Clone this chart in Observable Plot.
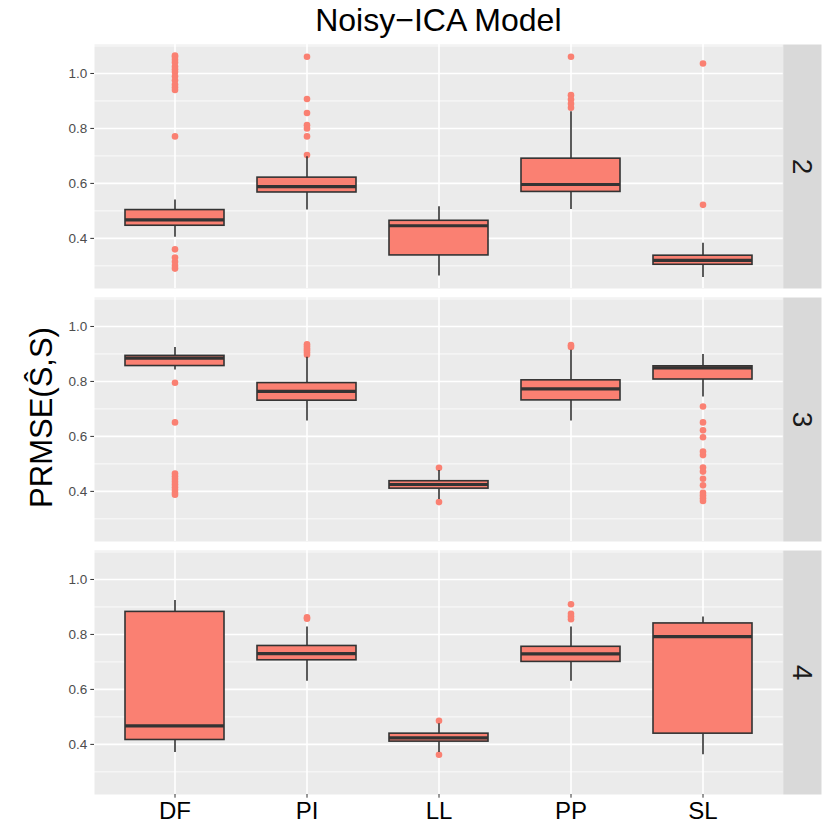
<!DOCTYPE html>
<html>
<head>
<meta charset="utf-8">
<script src="https://cdn.jsdelivr.net/npm/d3@7"></script>
<script src="https://cdn.jsdelivr.net/npm/@observablehq/plot@0.6"></script>
<style>
  body { margin: 0; background: #fff; }
  #wrap { position: relative; width: 830px; height: 830px; font-family: "Liberation Sans", Arial, sans-serif; overflow: hidden; }
  #title { position: absolute; left: 238.35px; width: 400px; top: 4px; font-size: 32px; line-height: 32px; text-align: center; color: #000; white-space: nowrap; }
  #ylab { position: absolute; left: -159.5px; width: 400px; top: 401.5px; height: 31px; font-size: 31px; line-height: 31px; text-align: center; color: #000; transform: rotate(-90deg); white-space: nowrap; }
</style>
</head>
<body>
<div id="wrap">
  <div id="chart"></div>
  <div id="title">Noisy−ICA Model</div>
  <div id="ylab">PRMSE(Ŝ,S)</div>
</div>
<script>
// ---- data ----
const methods = ["DF", "PI", "LL", "PP", "SL"];
const components = ["2", "3", "4"];

// per component (rows: 2, 3, 4), per method (DF, PI, LL, PP, SL)
const whiskerLow = [
  [0.404, 0.503, 0.263, 0.505, 0.258],
  [0.842, 0.656, 0.370, 0.656, 0.743],
  [0.370, 0.630, 0.370, 0.630, 0.362]
];
const quart1 = [
  [0.446, 0.567, 0.338, 0.569, 0.304],
  [0.856, 0.730, 0.410, 0.731, 0.807],
  [0.416, 0.706, 0.410, 0.700, 0.439]
];
const median = [
  [0.467, 0.588, 0.446, 0.596, 0.320],
  [0.885, 0.764, 0.425, 0.773, 0.849],
  [0.467, 0.730, 0.424, 0.729, 0.792]
];
const quart3 = [
  [0.503, 0.621, 0.464, 0.690, 0.337],
  [0.893, 0.794, 0.437, 0.804, 0.855],
  [0.882, 0.758, 0.439, 0.755, 0.840]
];
const whiskerHigh = [
  [0.540, 0.697, 0.515, 0.861, 0.382],
  [0.923, 0.888, 0.476, 0.913, 0.898],
  [0.923, 0.827, 0.475, 0.827, 0.863]
];

const outliers2 = [
  [1.065, 1.060, 1.050, 1.040, 1.025, 1.015, 1.005, 0.990, 0.975, 0.960, 0.950, 0.940, 0.771, 0.360, 0.330, 0.315, 0.300, 0.290],
  [1.061, 0.907, 0.856, 0.812, 0.800, 0.771, 0.703],
  [],
  [1.061, 0.921, 0.905, 0.890, 0.875],
  [1.036, 0.522]
];
const outliers3 = [
  [0.795, 0.651, 0.465, 0.455, 0.445, 0.435, 0.425, 0.415, 0.405, 0.395, 0.388],
  [0.897, 0.905, 0.913, 0.920, 0.928, 0.935],
  [0.486, 0.361],
  [0.925, 0.932],
  [0.709, 0.651, 0.622, 0.597, 0.545, 0.532, 0.487, 0.472, 0.446, 0.422, 0.395, 0.385, 0.375, 0.365]
];
const outliers4 = [
  [],
  [0.857, 0.862],
  [0.486, 0.362],
  [0.910, 0.875, 0.865, 0.855],
  []
];

const majorTicks = [0.4, 0.6, 0.8, 1.0];
const minorTicks = [0.3, 0.5, 0.7, 0.9, 1.1];

// ---- build tables ----
const stats = components.flatMap((k, i) => methods.map((m, j) => ({
  k, method: m,
  lo: whiskerLow[i][j], q1: quart1[i][j], med: median[i][j], q3: quart3[i][j], hi: whiskerHigh[i][j]
})));
const outlierSets = [outliers2, outliers3, outliers4];
const outliers = components.flatMap((k, i) => methods.flatMap((m, j) =>
  outlierSets[i][j].map(v => ({k, method: m, value: v}))));

const allVals = stats.flatMap(d => [d.lo, d.hi]).concat(outliers.map(d => d.value));
const [vmin, vmax] = d3.extent(allVals);
const pad = (vmax - vmin) * 0.05;
const yDomain = [vmin - pad, vmax + pad];

// ---- layout ----
const W = 830, H = 830;
const mL = 94, mR = 47.3, mT = 42.7, mB = 35;
const panelW = W - mL - mR;
const stripW = 38.3;

const fill = "#FA8072";
const dark = "#333333";

const chart = Plot.plot({
  width: W,
  height: H,
  marginLeft: mL,
  marginRight: mR,
  marginTop: mT,
  marginBottom: mB,
  style: { fontFamily: "Liberation Sans, Arial, sans-serif", background: "transparent", overflow: "visible" },
  x: { domain: methods, paddingInner: 0.25, paddingOuter: 0.225, align: 0.5, label: null },
  y: { domain: yDomain, label: null },
  fy: { domain: components, paddingInner: 0.037, paddingOuter: 0, axis: null, label: null },
  marks: [
    Plot.frame({ fill: "#EBEBEB", stroke: "none" }),
    Plot.ruleY(minorTicks.filter(t => t >= yDomain[0] && t <= yDomain[1]), { stroke: "white", strokeWidth: 0.8 }),
    Plot.ruleY(majorTicks, { stroke: "white", strokeWidth: 1.6 }),
    Plot.gridX({ stroke: "white", strokeOpacity: 1, strokeWidth: 1.6 }),
    // strip background + label
    Plot.frame({ fill: "#D9D9D9", stroke: "none", insetLeft: panelW, insetRight: -stripW }),
    Plot.text(components, { fy: d => d, text: d => d, frameAnchor: "right", dx: stripW / 2, rotate: 90,
      textAnchor: "middle", lineAnchor: "middle", fontSize: 28, fill: "#1A1A1A" }),
    // outliers
    Plot.dot(outliers, { x: "method", y: "value", fy: "k", r: 3.3, fill: fill, stroke: "none" }),
    // whiskers
    Plot.ruleX(stats, { x: "method", y1: "q3", y2: "hi", fy: "k", stroke: dark, strokeWidth: 1.6 }),
    Plot.ruleX(stats, { x: "method", y1: "lo", y2: "q1", fy: "k", stroke: dark, strokeWidth: 1.6 }),
    // boxes
    Plot.barY(stats, { x: "method", y1: "q1", y2: "q3", fy: "k", fill: fill, stroke: dark, strokeWidth: 1.6 }),
    // medians
    Plot.tickY(stats, { x: "method", y: "med", fy: "k", stroke: dark, strokeWidth: 3.2 }),
    // axes
    Plot.axisY({ ticks: majorTicks, tickFormat: d3.format(".1f"), fontSize: 13.5, tickSize: 3.7, tickPadding: 3.5,
      color: "#4D4D4D", stroke: dark, label: null }),
    Plot.axisX({ fontSize: 24, tickSize: 3.7, tickPadding: 4, color: "#000", stroke: dark, label: null })
  ]
});

document.getElementById("chart").appendChild(chart);
</script>
</body>
</html>
